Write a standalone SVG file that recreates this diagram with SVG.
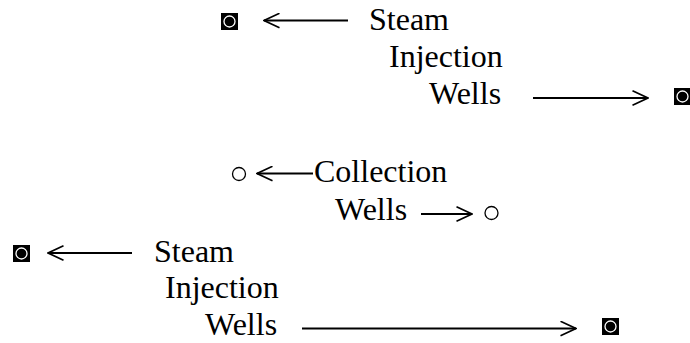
<svg xmlns="http://www.w3.org/2000/svg" width="690" height="343" viewBox="0 0 690 343">
  <style>
    .lbl { font-family: "Liberation Serif", "Times New Roman", serif; font-size: 32px; fill: #000; }
    .box { fill: #000; }
    .ring { fill: #000; stroke: #fff; stroke-width: 1.3; }
    .hollow { fill: none; stroke: #000; stroke-width: 1.3; }
    .conn { fill: none; stroke: #000; stroke-width: 2; }
  </style>
  <defs>
    <marker id="chev" viewBox="0 0 17 16" refX="16" refY="8" markerWidth="17" markerHeight="16" markerUnits="userSpaceOnUse" orient="auto">
      <path d="M0.5,0.8 L16,8 L0.5,15.2" fill="none" stroke="#000" stroke-width="1.7"/>
    </marker>
  </defs>

  <!-- Labels -->
  <g id="label-steam-top">
    <text class="lbl" x="369" y="30">Steam</text>
    <text class="lbl" x="389" y="67">Injection</text>
    <text class="lbl" x="429" y="104">Wells</text>
  </g>
  <g id="label-collection">
    <text class="lbl" x="314" y="182">Collection</text>
    <text class="lbl" x="335" y="219.5">Wells</text>
  </g>
  <g id="label-steam-bottom">
    <text class="lbl" x="154" y="261.5">Steam</text>
    <text class="lbl" x="165" y="298">Injection</text>
    <text class="lbl" x="205" y="335">Wells</text>
  </g>

  <!-- Wells -->
  <g id="well-inj-1">
    <rect class="box" x="221" y="13" width="17" height="17"/>
    <circle class="ring" cx="229.5" cy="21.5" r="5.5"/>
  </g>
  <g id="well-inj-2">
    <rect class="box" x="674" y="88" width="17" height="17"/>
    <circle class="ring" cx="682.5" cy="96.5" r="5.5"/>
  </g>
  <g id="well-col-1">
    <circle class="hollow" cx="239" cy="174" r="6.5"/>
  </g>
  <g id="well-col-2">
    <circle class="hollow" cx="491.5" cy="213" r="6.5"/>
  </g>
  <g id="well-inj-3">
    <rect class="box" x="13" y="245" width="17" height="17"/>
    <circle class="ring" cx="21.5" cy="253.5" r="5.5"/>
  </g>
  <g id="well-inj-4">
    <rect class="box" x="602" y="318" width="17" height="17"/>
    <circle class="ring" cx="610.5" cy="326.5" r="5.5"/>
  </g>

  <!-- Connectors -->
  <g id="connectors">
    <line class="conn" x1="348" y1="20.5" x2="264" y2="20.5" marker-end="url(#chev)"/>
    <line class="conn" x1="533" y1="98" x2="648" y2="98" marker-end="url(#chev)"/>
    <line class="conn" x1="313" y1="173.5" x2="257" y2="173.5" marker-end="url(#chev)"/>
    <line class="conn" x1="421" y1="214" x2="472" y2="214" marker-end="url(#chev)"/>
    <line class="conn" x1="132" y1="253" x2="48" y2="253" marker-end="url(#chev)"/>
    <line class="conn" x1="302" y1="328.5" x2="576" y2="328.5" marker-end="url(#chev)"/>
  </g>
</svg>
